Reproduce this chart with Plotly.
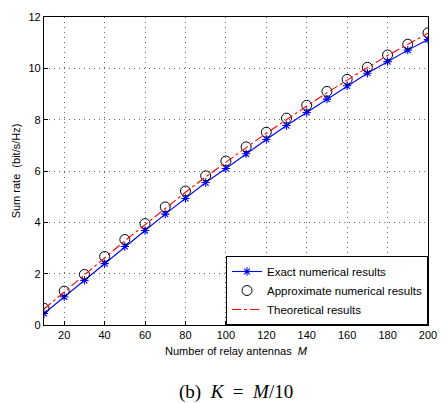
import plotly.graph_objects as go

M = [10, 20, 30, 40, 50, 60, 70, 80, 90, 100, 110, 120, 130, 140, 150, 160, 170, 180, 190, 200]
exact = [0.45, 1.10, 1.74, 2.39, 3.06, 3.68, 4.32, 4.93, 5.55, 6.10, 6.67, 7.23, 7.77, 8.28, 8.80, 9.32, 9.81, 10.26, 10.71, 11.12]
approx = [0.65, 1.32, 1.97, 2.67, 3.33, 3.95, 4.60, 5.22, 5.81, 6.39, 6.94, 7.51, 8.06, 8.56, 9.10, 9.57, 10.04, 10.52, 10.94, 11.38]
theory = [0.62, 1.29, 1.94, 2.62, 3.28, 3.91, 4.55, 5.17, 5.77, 6.35, 6.91, 7.47, 8.01, 8.53, 9.05, 9.55, 10.03, 10.50, 10.94, 11.37]
xticks = [20, 40, 60, 80, 100, 120, 140, 160, 180, 200]
yticks = [0, 2, 4, 6, 8, 10, 12]

FONT = "Liberation Sans, Arial, sans-serif"
fig = go.Figure()
fig.add_trace(go.Scatter(x=M, y=exact, mode="lines+markers", name="Exact numerical results",
                         line=dict(color="blue", width=1.1),
                         marker=dict(symbol="asterisk-open", size=7, color="blue", line=dict(width=1.1, color="blue"))))
fig.add_trace(go.Scatter(x=M, y=approx, mode="markers", name="Approximate numerical results",
                         marker=dict(symbol="circle-open", size=10, color="black", line=dict(width=1, color="black"))))
fig.add_trace(go.Scatter(x=M, y=theory, mode="lines", name="Theoretical results",
                         line=dict(color="red", width=1.1, dash="dashdot")))

axis_common = dict(showline=True, linecolor="black", linewidth=1.2, mirror=True,
                   ticks="inside", ticklen=4, tickcolor="black",
                   showgrid=True, gridcolor="rgba(0,0,0,0.6)", griddash="1px,4px", gridwidth=1,
                   zeroline=False, tickfont=dict(family=FONT, size=11, color="black"))
fig.update_xaxes(range=[10, 200], tickvals=xticks, **axis_common,
                 title=dict(text="Number of relay antennas  <i>M</i>", font=dict(family=FONT, size=11, color="black"), standoff=7))
fig.update_yaxes(range=[0, 12], tickvals=yticks, **axis_common,
                 title=dict(text="Sum rate  (bit/s/Hz)", font=dict(family=FONT, size=11, color="black"), standoff=5))

fig.update_layout(
    width=448, height=403,
    margin=dict(l=44, r=11, t=15, b=78),
    plot_bgcolor="white", paper_bgcolor="white",
    showlegend=True,
    legend=dict(x=1, y=0, xanchor="right", yanchor="bottom",
                bgcolor="white", bordercolor="black", borderwidth=1,
                font=dict(family=FONT, size=11.5, color="black"),
                tracegroupgap=0, itemwidth=30),
    annotations=[dict(text="(b)&nbsp; <i>K</i>&nbsp; =&nbsp; <i>M</i>/10", xref="paper", yref="paper",
                      x=0.50, y=-0.219, yanchor="middle", xanchor="center", showarrow=False,
                      font=dict(family="Liberation Serif, Times New Roman, serif", size=19, color="black"))],
)
fig.write_html("out.html", config={"displayModeBar": False},
               post_script="document.body.style.margin='0';document.body.style.padding='0';")
